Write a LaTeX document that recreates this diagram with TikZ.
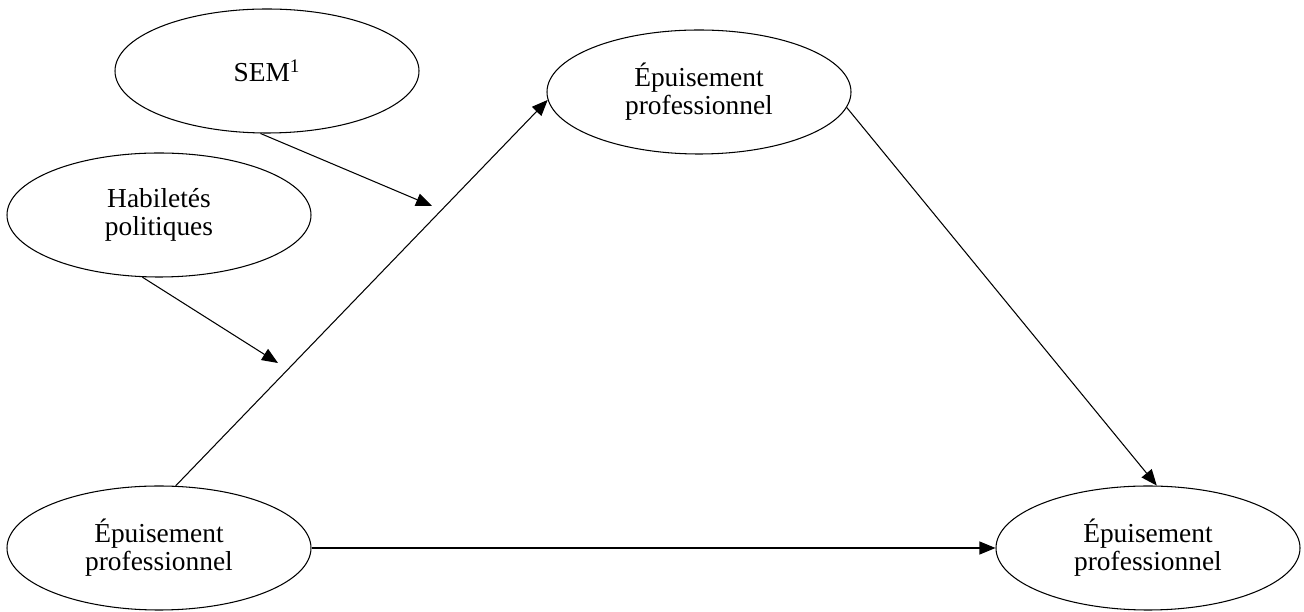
\documentclass[tikz,border=0pt]{standalone}
\usepackage{fontspec}
\setmainfont{Liberation Serif}
\usetikzlibrary{shapes.geometric,arrows.meta}

\begin{document}
\begin{tikzpicture}[
    construct/.style={draw, ellipse, line width=0.6pt, minimum width=6.08cm, minimum height=2.48cm,
        inner sep=0pt, align=center, font=\fontsize{15.6}{15.8}\selectfont},
    path/.style={line width=0.6pt, -{Triangle[length=3.2mm, width=2.6mm]}}
]
    \useasboundingbox (0,0) rectangle (26.08,12.24);

    \node[construct] (sem) at (5.34,10.82) {SEM\textsuperscript{1}};
    \node[construct] (hab) at (3.18,7.94) {Habiletés\\politiques};
    \node[construct] (top) at (13.98,10.40) {Épuisement\\professionnel};
    \node[construct] (bl) at (3.18,1.28) {Épuisement\\professionnel};
    \node[construct] (br) at (22.96,1.28) {Épuisement\\professionnel};

    \coordinate (semtip) at (8.64,8.12);
    \coordinate (habtip) at (5.56,4.98);

    \draw[path] (bl.75) -- (top.183);
    \draw[path] (top.354) -- (br.82);
    \draw[path] (bl.east) -- (br.west);
    \draw[path] (sem.264) -- (semtip);
    \draw[path] (hab.255) -- (habtip);
\end{tikzpicture}
\end{document}
